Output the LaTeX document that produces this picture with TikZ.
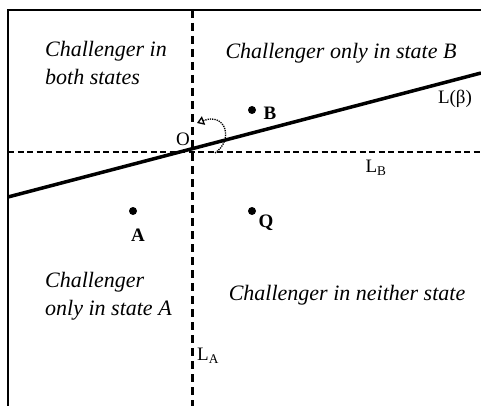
\documentclass[tikz,border=0pt]{standalone}
\usepackage{fontspec}
\setmainfont{Liberation Serif}
\usetikzlibrary{arrows.meta}

\begin{document}
\begin{tikzpicture}[x=1pt, y=-1pt]
    \tikzstyle{pt} += [circle, fill=black, inner sep=0pt, minimum size=8pt];
    \tikzstyle{region} += [font=\fontsize{22}{28}\selectfont\itshape, align=left, inner sep=0pt];
    \tikzstyle{lbl} += [font=\fontsize{19}{22}\selectfont, inner sep=0pt];
    \tikzstyle{bold} += [font=\fontsize{19}{22}\selectfont\bfseries, inner sep=0pt];
    \useasboundingbox (0,0) rectangle (481,406);

    \coordinate (tl) at (8,10);
    \coordinate (tr) at (481,10);
    \coordinate (bl) at (8,406);
    \coordinate (la_top) at (192,10);
    \coordinate (la_bot) at (192,406);
    \coordinate (lb_left) at (8,152);
    \coordinate (lb_right) at (481,152);
    \coordinate (lbeta_left) at (8,197);
    \coordinate (lbeta_right) at (481,73);

    \draw[line width=1.3pt] (tr) -- (tl) -- (bl);
    \draw[line width=3pt, dash pattern=on 8pt off 5pt] (la_top) -- (la_bot);
    \draw[line width=2.5pt, dash pattern=on 6pt off 3.5pt] (lb_left) -- (lb_right);
    \draw[line width=3.5pt] (lbeta_left) -- (lbeta_right);

    \node (p_b) at (252,110) [pt] {};
    \node (p_a) at (133,211) [pt] {};
    \node (p_q) at (252,211) [pt] {};

    \node (b) at (270,113) [bold] {B};
    \node (a) at (138,235) [bold] {A};
    \node (q) at (266,223) [bold] {Q};

    \node (o) at (183,139) [lbl] {O};
    \node (l_beta) at (455,99) [lbl] {L(β)};
    \node (l_b) at (376,168) [lbl] {L\textsubscript{B}};
    \node (l_a) at (208,356) [lbl] {L\textsubscript{A}};

    \node (r_both) at (45,63) [region, anchor=west] {Challenger in\\both states};
    \node (r_b) at (341,53) [region] {Challenger only in state B};
    \node (r_a) at (45,296) [region, anchor=west] {Challenger\\only in state A};
    \node (r_none) at (347,295) [region] {Challenger in neither state};

    \coordinate (rot_start) at (215,153);
    \coordinate (rot_end) at (197,123);
    \begin{scope}[-{Triangle[open, length=7pt, width=9pt]}, densely dotted, line width=1.3pt]
      \draw (rot_start) .. controls (234,140) and (226,112) .. (rot_end);
    \end{scope}
\end{tikzpicture}
\end{document}
